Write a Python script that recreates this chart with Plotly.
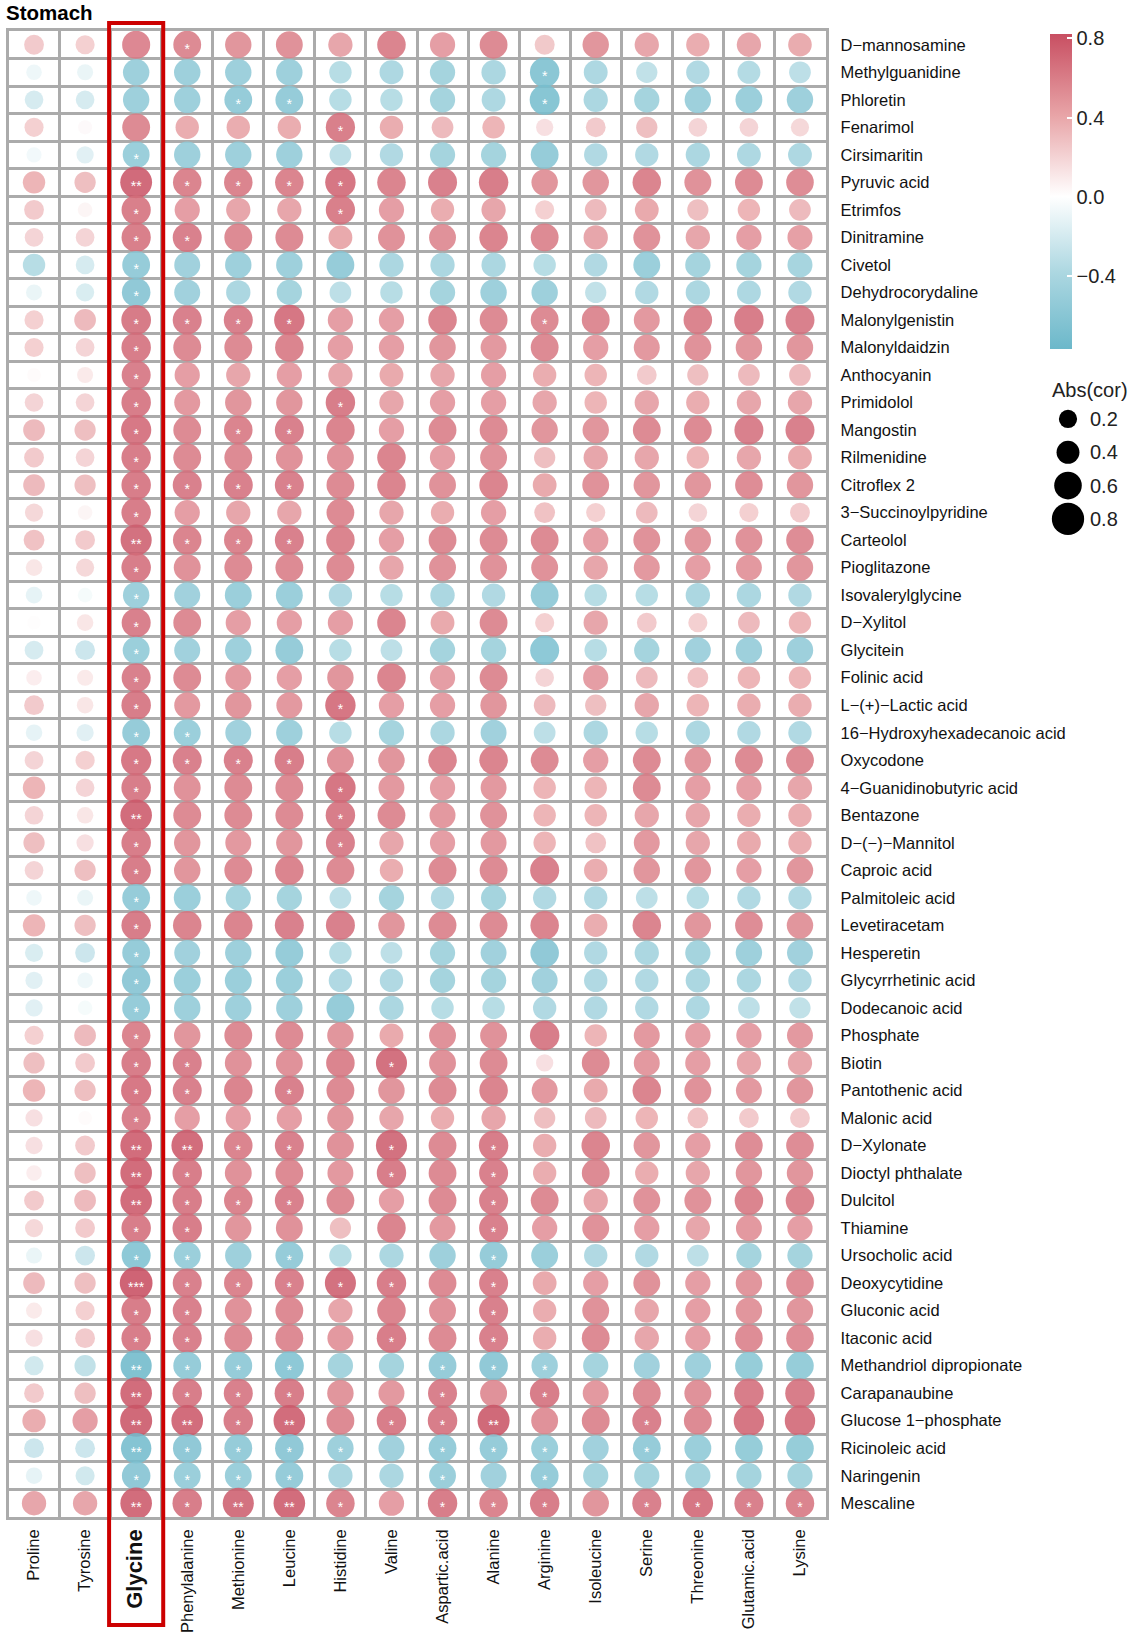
import plotly.graph_objects as go

amino_acids = ["Proline", "Tyrosine", "Glycine", "Phenylalanine", "Methionine", "Leucine",
               "Histidine", "Valine", "Aspartic.acid", "Alanine", "Arginine", "Isoleucine",
               "Serine", "Threonine", "Glutamic.acid", "Lysine"]

metabolites = ["D−mannosamine", "Methylguanidine", "Phloretin", "Fenarimol", "Cirsimaritin",
               "Pyruvic acid", "Etrimfos", "Dinitramine", "Civetol", "Dehydrocorydaline",
               "Malonylgenistin", "Malonyldaidzin", "Anthocyanin", "Primidolol", "Mangostin",
               "Rilmenidine", "Citroflex 2", "3−Succinoylpyridine", "Carteolol", "Pioglitazone",
               "Isovalerylglycine", "D−Xylitol", "Glycitein", "Folinic acid", "L−(+)−Lactic acid",
               "16−Hydroxyhexadecanoic acid", "Oxycodone", "4−Guanidinobutyric acid", "Bentazone",
               "D−(−)−Mannitol", "Caproic acid", "Palmitoleic acid", "Levetiracetam", "Hesperetin",
               "Glycyrrhetinic acid", "Dodecanoic acid", "Phosphate", "Biotin", "Pantothenic acid",
               "Malonic acid", "D−Xylonate", "Dioctyl phthalate", "Dulcitol", "Thiamine",
               "Ursocholic acid", "Deoxycytidine", "Gluconic acid", "Itaconic acid",
               "Methandriol dipropionate", "Carapanaubine", "Glucose 1−phosphate",
               "Ricinoleic acid", "Naringenin", "Mescaline"]

# correlation values, one row per metabolite, columns in amino_acids order
cor_values = [
    [0.27, 0.24, 0.62, 0.61, 0.55, 0.57, 0.46, 0.64, 0.50, 0.61, 0.28, 0.55, 0.46, 0.42, 0.46, 0.43],
    [-0.09, -0.11, -0.55, -0.55, -0.55, -0.55, -0.38, -0.44, -0.50, -0.46, -0.68, -0.44, -0.33, -0.42, -0.40, -0.35],
    [-0.22, -0.22, -0.55, -0.55, -0.61, -0.61, -0.38, -0.38, -0.50, -0.44, -0.70, -0.46, -0.50, -0.55, -0.57, -0.55],
    [0.24, 0.03, 0.61, 0.42, 0.42, 0.42, 0.67, 0.42, 0.35, 0.38, 0.16, 0.27, 0.33, 0.22, 0.22, 0.20],
    [-0.07, -0.16, -0.57, -0.55, -0.55, -0.55, -0.35, -0.42, -0.50, -0.50, -0.61, -0.42, -0.42, -0.46, -0.44, -0.44],
    [0.38, 0.33, 0.78, 0.64, 0.64, 0.64, 0.72, 0.64, 0.66, 0.68, 0.55, 0.55, 0.64, 0.57, 0.61, 0.60],
    [0.27, 0.05, 0.67, 0.50, 0.46, 0.46, 0.67, 0.50, 0.42, 0.46, 0.24, 0.35, 0.44, 0.33, 0.38, 0.35],
    [0.22, 0.22, 0.67, 0.66, 0.61, 0.61, 0.44, 0.57, 0.57, 0.64, 0.61, 0.46, 0.57, 0.46, 0.50, 0.49],
    [-0.38, -0.22, -0.61, -0.53, -0.55, -0.55, -0.61, -0.46, -0.46, -0.46, -0.38, -0.42, -0.57, -0.50, -0.50, -0.49],
    [-0.11, -0.20, -0.64, -0.53, -0.46, -0.50, -0.35, -0.38, -0.50, -0.55, -0.55, -0.33, -0.42, -0.46, -0.44, -0.42],
    [0.24, 0.35, 0.69, 0.66, 0.66, 0.72, 0.50, 0.50, 0.64, 0.61, 0.61, 0.61, 0.53, 0.64, 0.68, 0.66],
    [0.24, 0.22, 0.68, 0.61, 0.61, 0.64, 0.50, 0.50, 0.55, 0.53, 0.61, 0.50, 0.53, 0.57, 0.55, 0.55],
    [0.02, 0.11, 0.66, 0.50, 0.46, 0.50, 0.46, 0.44, 0.46, 0.50, 0.42, 0.38, 0.27, 0.33, 0.35, 0.35],
    [0.22, 0.22, 0.68, 0.53, 0.55, 0.55, 0.68, 0.46, 0.50, 0.50, 0.46, 0.38, 0.46, 0.42, 0.46, 0.46],
    [0.35, 0.33, 0.71, 0.61, 0.64, 0.66, 0.64, 0.50, 0.61, 0.61, 0.55, 0.55, 0.61, 0.61, 0.66, 0.66],
    [0.27, 0.22, 0.68, 0.61, 0.61, 0.57, 0.57, 0.64, 0.50, 0.57, 0.33, 0.46, 0.46, 0.38, 0.46, 0.44],
    [0.35, 0.33, 0.68, 0.66, 0.66, 0.66, 0.61, 0.64, 0.57, 0.64, 0.44, 0.57, 0.55, 0.55, 0.60, 0.55],
    [0.20, 0.05, 0.68, 0.50, 0.46, 0.46, 0.61, 0.46, 0.42, 0.50, 0.31, 0.24, 0.35, 0.22, 0.24, 0.27],
    [0.31, 0.27, 0.75, 0.64, 0.64, 0.66, 0.64, 0.50, 0.61, 0.61, 0.61, 0.50, 0.57, 0.55, 0.57, 0.60],
    [0.13, 0.20, 0.68, 0.57, 0.61, 0.61, 0.61, 0.46, 0.57, 0.57, 0.57, 0.46, 0.53, 0.50, 0.53, 0.55],
    [-0.13, -0.05, -0.55, -0.53, -0.57, -0.57, -0.42, -0.38, -0.46, -0.42, -0.61, -0.38, -0.38, -0.46, -0.46, -0.42],
    [0.01, 0.13, 0.66, 0.61, 0.50, 0.50, 0.50, 0.64, 0.44, 0.61, 0.24, 0.46, 0.27, 0.24, 0.35, 0.38],
    [-0.22, -0.27, -0.57, -0.53, -0.55, -0.61, -0.38, -0.35, -0.50, -0.50, -0.66, -0.38, -0.50, -0.53, -0.55, -0.55],
    [0.09, 0.11, 0.66, 0.61, 0.53, 0.50, 0.55, 0.64, 0.50, 0.61, 0.22, 0.50, 0.35, 0.31, 0.38, 0.38],
    [0.27, 0.13, 0.68, 0.53, 0.55, 0.53, 0.72, 0.50, 0.50, 0.55, 0.35, 0.33, 0.46, 0.38, 0.42, 0.42],
    [-0.13, -0.16, -0.61, -0.57, -0.53, -0.55, -0.38, -0.50, -0.46, -0.53, -0.35, -0.46, -0.38, -0.46, -0.42, -0.42],
    [0.22, 0.24, 0.71, 0.66, 0.66, 0.68, 0.57, 0.55, 0.64, 0.64, 0.61, 0.50, 0.61, 0.55, 0.61, 0.61],
    [0.38, 0.22, 0.68, 0.57, 0.61, 0.61, 0.72, 0.53, 0.50, 0.53, 0.38, 0.38, 0.61, 0.50, 0.50, 0.46],
    [0.22, 0.13, 0.77, 0.61, 0.61, 0.61, 0.68, 0.61, 0.53, 0.57, 0.38, 0.38, 0.46, 0.46, 0.42, 0.42],
    [0.33, 0.16, 0.68, 0.55, 0.53, 0.55, 0.66, 0.46, 0.50, 0.53, 0.38, 0.31, 0.53, 0.46, 0.44, 0.42],
    [0.22, 0.33, 0.68, 0.55, 0.61, 0.64, 0.61, 0.42, 0.61, 0.61, 0.66, 0.42, 0.55, 0.55, 0.50, 0.55],
    [-0.09, -0.11, -0.61, -0.57, -0.50, -0.50, -0.35, -0.50, -0.42, -0.50, -0.42, -0.42, -0.35, -0.38, -0.42, -0.42],
    [0.38, 0.33, 0.68, 0.64, 0.64, 0.66, 0.66, 0.55, 0.61, 0.61, 0.64, 0.42, 0.64, 0.55, 0.60, 0.55],
    [-0.20, -0.27, -0.61, -0.53, -0.55, -0.61, -0.38, -0.35, -0.50, -0.53, -0.64, -0.42, -0.46, -0.50, -0.55, -0.53],
    [-0.16, -0.09, -0.64, -0.57, -0.57, -0.57, -0.42, -0.42, -0.50, -0.50, -0.53, -0.42, -0.42, -0.46, -0.46, -0.42],
    [-0.16, -0.05, -0.61, -0.55, -0.55, -0.55, -0.61, -0.46, -0.38, -0.38, -0.42, -0.42, -0.42, -0.44, -0.35, -0.33],
    [0.24, 0.35, 0.64, 0.55, 0.61, 0.61, 0.55, 0.44, 0.57, 0.57, 0.68, 0.38, 0.53, 0.50, 0.50, 0.53],
    [0.33, 0.27, 0.68, 0.66, 0.57, 0.57, 0.64, 0.75, 0.57, 0.61, 0.16, 0.61, 0.53, 0.50, 0.46, 0.46],
    [0.38, 0.33, 0.71, 0.66, 0.64, 0.66, 0.61, 0.55, 0.61, 0.64, 0.53, 0.44, 0.64, 0.57, 0.53, 0.55],
    [0.16, 0.02, 0.66, 0.50, 0.50, 0.50, 0.55, 0.46, 0.42, 0.46, 0.33, 0.35, 0.38, 0.31, 0.27, 0.27],
    [0.16, 0.27, 0.77, 0.77, 0.64, 0.66, 0.57, 0.75, 0.61, 0.68, 0.42, 0.64, 0.55, 0.50, 0.60, 0.60],
    [0.09, 0.33, 0.77, 0.68, 0.57, 0.61, 0.53, 0.68, 0.61, 0.66, 0.42, 0.61, 0.42, 0.46, 0.55, 0.55],
    [0.27, 0.35, 0.77, 0.68, 0.64, 0.66, 0.61, 0.50, 0.61, 0.66, 0.61, 0.46, 0.57, 0.57, 0.64, 0.64],
    [0.20, 0.27, 0.68, 0.68, 0.55, 0.57, 0.33, 0.64, 0.53, 0.66, 0.50, 0.57, 0.50, 0.46, 0.53, 0.50],
    [-0.11, -0.27, -0.66, -0.57, -0.55, -0.61, -0.38, -0.46, -0.55, -0.61, -0.57, -0.42, -0.42, -0.35, -0.50, -0.50],
    [0.35, 0.33, 0.82, 0.66, 0.64, 0.66, 0.75, 0.68, 0.61, 0.66, 0.44, 0.50, 0.57, 0.50, 0.55, 0.60],
    [0.11, 0.24, 0.68, 0.66, 0.57, 0.61, 0.46, 0.64, 0.57, 0.66, 0.42, 0.57, 0.46, 0.50, 0.55, 0.55],
    [0.16, 0.27, 0.68, 0.66, 0.61, 0.61, 0.53, 0.68, 0.61, 0.66, 0.42, 0.61, 0.46, 0.50, 0.60, 0.60],
    [-0.24, -0.33, -0.75, -0.61, -0.61, -0.66, -0.50, -0.50, -0.61, -0.64, -0.55, -0.50, -0.53, -0.55, -0.60, -0.60],
    [0.27, 0.33, 0.77, 0.68, 0.66, 0.68, 0.55, 0.53, 0.66, 0.57, 0.68, 0.53, 0.61, 0.57, 0.68, 0.68],
    [0.42, 0.50, 0.79, 0.77, 0.68, 0.77, 0.61, 0.68, 0.68, 0.79, 0.57, 0.61, 0.66, 0.61, 0.72, 0.72],
    [-0.27, -0.27, -0.72, -0.64, -0.61, -0.64, -0.55, -0.53, -0.61, -0.61, -0.57, -0.53, -0.61, -0.57, -0.60, -0.60],
    [-0.13, -0.24, -0.64, -0.57, -0.57, -0.61, -0.46, -0.46, -0.57, -0.53, -0.61, -0.50, -0.50, -0.50, -0.50, -0.50],
    [0.46, 0.46, 0.77, 0.68, 0.75, 0.77, 0.64, 0.50, 0.68, 0.64, 0.68, 0.55, 0.66, 0.72, 0.66, 0.64],
]

# significance marks per metabolite ("." = none), columns in amino_acids order
sig_marks = [
    ". . . * . . . . . . . . . . . .",
    ". . . . . . . . . . * . . . . .",
    ". . . . * * . . . . * . . . . .",
    ". . . . . . * . . . . . . . . .",
    ". . * . . . . . . . . . . . . .",
    ". . ** * * * * . . . . . . . . .",
    ". . * . . . * . . . . . . . . .",
    ". . * * . . . . . . . . . . . .",
    ". . * . . . . . . . . . . . . .",
    ". . * . . . . . . . . . . . . .",
    ". . * * * * . . . . * . . . . .",
    ". . * . . . . . . . . . . . . .",
    ". . * . . . . . . . . . . . . .",
    ". . * . . . * . . . . . . . . .",
    ". . * . * * . . . . . . . . . .",
    ". . * . . . . . . . . . . . . .",
    ". . * * * * . . . . . . . . . .",
    ". . * . . . . . . . . . . . . .",
    ". . ** * * * . . . . . . . . . .",
    ". . * . . . . . . . . . . . . .",
    ". . * . . . . . . . . . . . . .",
    ". . * . . . . . . . . . . . . .",
    ". . * . . . . . . . . . . . . .",
    ". . * . . . . . . . . . . . . .",
    ". . * . . . * . . . . . . . . .",
    ". . * * . . . . . . . . . . . .",
    ". . * * * * . . . . . . . . . .",
    ". . * . . . * . . . . . . . . .",
    ". . ** . . . * . . . . . . . . .",
    ". . * . . . * . . . . . . . . .",
    ". . * . . . . . . . . . . . . .",
    ". . * . . . . . . . . . . . . .",
    ". . * . . . . . . . . . . . . .",
    ". . * . . . . . . . . . . . . .",
    ". . * . . . . . . . . . . . . .",
    ". . * . . . . . . . . . . . . .",
    ". . * . . . . . . . . . . . . .",
    ". . * * . . . * . . . . . . . .",
    ". . * * . * . . . . . . . . . .",
    ". . * . . . . . . . . . . . . .",
    ". . ** ** * * . * . * . . . . . .",
    ". . ** * . . . * . * . . . . . .",
    ". . ** * * * . . . * . . . . . .",
    ". . * * . . . . . * . . . . . .",
    ". . * * . * . . . * . . . . . .",
    ". . *** * * * * * . * . . . . . .",
    ". . * * . . . . . * . . . . . .",
    ". . * * . . . * . * . . . . . .",
    ". . ** * * * . . * * * . . . . .",
    ". . ** * * * . . * . * . . . . .",
    ". . ** ** * ** . * * ** . . * . . .",
    ". . ** * * * * . * * * . * . . .",
    ". . * * * * . . * . * . . . . .",
    ". . ** * ** ** * . * * * . * * * *",
]

size_legend_values = [0.2, 0.4, 0.6, 0.8]
size_legend_labels = ["0.2", "0.4", "0.6", "0.8"]
colorbar_ticks = [0.8, 0.4, 0.0, -0.4]
colorbar_ticktext = ["0.8", "0.4", "0.0", "−0.4"]

FONT = "Liberation Sans, Arial, sans-serif"
W, H = 1133, 1637


def diam(v):
    return 13.5 + 23.5 * abs(v)


xs, ys, vals, sizes = [], [], [], []
sx, sy, st = [], [], []
for i, m in enumerate(metabolites):
    marks = sig_marks[i].split()
    for j, a in enumerate(amino_acids):
        v = cor_values[i][j]
        xs.append(a)
        ys.append(m)
        vals.append(v)
        sizes.append(diam(v))
        if marks[j] != ".":
            sx.append(a)
            sy.append(m)
            st.append(marks[j])

cmin, cmax = -0.77, 0.82
mid = -cmin / (cmax - cmin)
colorscale = [
    [0.0, "#6cb8ca"],
    [mid * 0.5, "#acd7e1"],
    [mid, "#ffffff"],
    [mid + (1 - mid) * 0.5, "#e8a4a7"],
    [1.0, "#c84f62"],
]

fig = go.Figure()
fig.add_trace(go.Scatter(
    x=xs, y=ys, mode="markers", hoverinfo="skip", showlegend=False, cliponaxis=False,
    marker=dict(
        size=sizes, color=vals, colorscale=colorscale, cmin=cmin, cmax=cmax,
        opacity=0.88, line=dict(width=0),
        colorbar=dict(
            x=1050 / W, xanchor="left", y=1 - 34.5 / H, yanchor="top",
            len=315, lenmode="pixels", thickness=22, thicknessmode="pixels",
            xpad=0, ypad=0, outlinewidth=0,
            tickmode="array", tickvals=colorbar_ticks, ticktext=colorbar_ticktext,
            ticks="inside", ticklen=5, tickcolor="white", tickwidth=1.5,
            tickfont=dict(family=FONT, size=20, color="#222"),
            title=dict(text=""),
        ),
    ),
))
# significance marks drawn on an overlay axis nudged slightly downward
fig.add_trace(go.Scatter(
    x=sx, y=sy, yaxis="y3", mode="text", text=st, textposition="middle center",
    textfont=dict(family=FONT, size=14, color="white"), cliponaxis=False,
    hoverinfo="skip", showlegend=False,
))
fig.add_trace(go.Scatter(
    x=[0] * len(size_legend_values), y=size_legend_values, xaxis="x2", yaxis="y2",
    mode="markers", hoverinfo="skip", showlegend=False, cliponaxis=False,
    marker=dict(size=[diam(v) for v in size_legend_values], color="#000000", opacity=1,
                line=dict(width=0)),
))

xt = [("<span style='font-size:22px'><b>%s</b></span>" % a) if a == "Glycine" else a for a in amino_acids]

grid_common = dict(
    tickson="boundaries", ticks="", showgrid=True, gridcolor="#ababab", gridwidth=2.5,
    showline=True, mirror=True, linecolor="#ababab", linewidth=2.5,
    zeroline=False, automargin=False,
)

fig.update_layout(
    width=W, height=H, margin=dict(l=0, r=0, t=0, b=0),
    paper_bgcolor="white", plot_bgcolor="white",
    font=dict(family=FONT, color="#111"),
    xaxis=dict(
        domain=[8.5 / W, 825.5 / W], type="category",
        categoryorder="array", categoryarray=amino_acids,
        range=[-0.5, len(amino_acids) - 0.5],
        tickmode="array", tickvals=amino_acids, ticktext=xt,
        tickangle=-90, ticklabelstandoff=3,
        tickfont=dict(family=FONT, size=16.5, color="#111"),
        **grid_common,
    ),
    yaxis=dict(
        domain=[(H - 1517) / H, (H - 31) / H], type="category",
        categoryorder="array", categoryarray=metabolites,
        range=[len(metabolites) - 0.5, -0.5],
        side="right", ticklabelstandoff=9,
        tickfont=dict(family=FONT, size=16.5, color="#111"),
        **grid_common,
    ),
    yaxis3=dict(
        overlaying="y", type="category",
        categoryorder="array", categoryarray=metabolites,
        range=[len(metabolites) - 0.5 - 0.2, -0.5 - 0.2],
        visible=False, showgrid=False, zeroline=False,
    ),
    xaxis2=dict(
        domain=[1055 / W, 1081 / W], range=[-1, 1], anchor="y2",
        visible=False, fixedrange=True,
    ),
    yaxis2=dict(
        domain=[(H - 535.6) / H, (H - 402.3) / H], range=[0.9, 0.1], anchor="x2",
        side="right", showgrid=False, zeroline=False, showline=False, ticks="",
        tickmode="array", tickvals=size_legend_values, ticktext=size_legend_labels,
        ticklabelstandoff=8,
        tickfont=dict(family=FONT, size=20, color="#222"), automargin=False,
    ),
    shapes=[dict(
        type="rect", xref="x", yref="paper",
        x0=1.47, x1=2.53, y0=1 - 1625 / H, y1=1 - 23 / H,
        line=dict(color="#cc0000", width=4), fillcolor="rgba(0,0,0,0)", layer="above",
    )],
    annotations=[
        dict(text="<b>Stomach</b>", xref="paper", yref="paper", x=4 / W, y=1 - 12.5 / H,
             xanchor="left", yanchor="middle", showarrow=False,
             font=dict(family=FONT, size=20.5, color="black")),
        dict(text="Abs(cor)", xref="paper", yref="paper", x=1050 / W, y=1 - 390 / H,
             xanchor="left", yanchor="middle", showarrow=False,
             font=dict(family=FONT, size=20, color="#222")),
    ],
)

fig.write_html(
    "out.html",
    config={"displayModeBar": False},
    post_script="document.body.style.margin='0px';document.body.style.padding='0px';",
)
